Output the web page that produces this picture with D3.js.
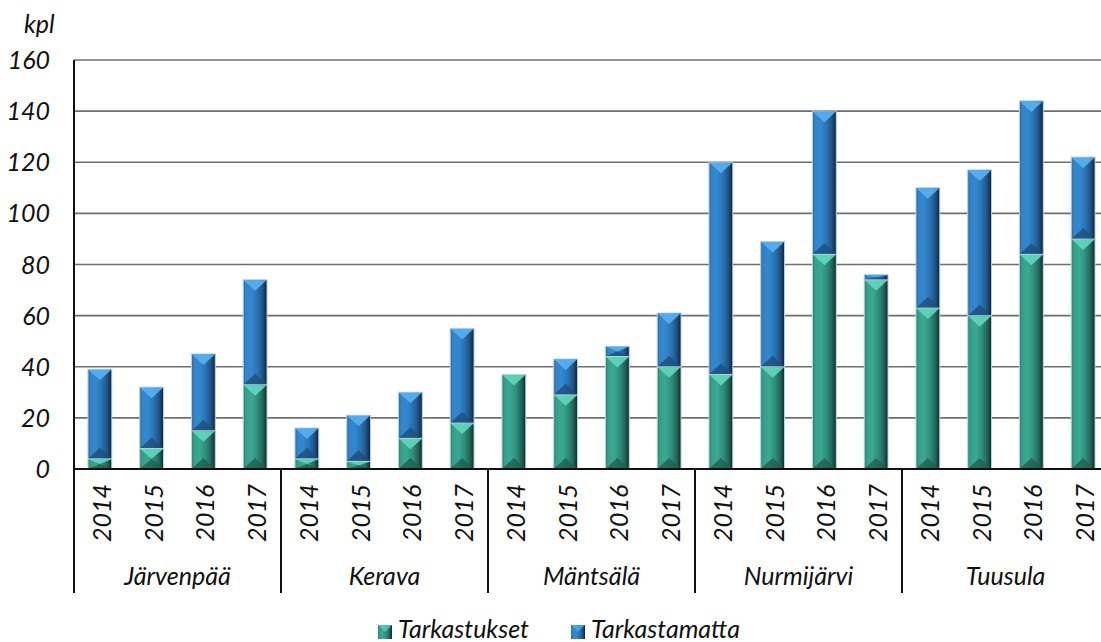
<!DOCTYPE html>
<html><head><meta charset="utf-8">
<script src="https://cdn.jsdelivr.net/npm/d3@7"></script>
<style>
html,body{margin:0;padding:0;background:#fff;overflow:hidden;}
svg{display:block;font-family:Lato,"Open Sans",sans-serif;font-style:italic;}
</style></head><body>
<svg id="c" width="1101" height="642"></svg>
<script>
const groups = ["Järvenpää","Kerava","Mäntsälä","Nurmijärvi","Tuusula"];
const years = ["2014","2015","2016","2017"];
const tarkastukset  = [4,8,15,33, 4,3,12,18, 37,29,44,40, 37,40,84,74, 63,60,84,90];
const tarkastamatta = [35,24,30,41, 12,18,18,37, 0,14,4,21, 83,49,56,2, 47,57,60,32];
const yTicks = [0,20,40,60,80,100,120,140,160];
const seriesNames = ["Tarkastukset","Tarkastamatta"];

(function(){
const svg = d3.select("#c");
const FS = 25;
const pL = 74, pR = 1109, pT = 60, pB = 469;
const keys = [];
groups.forEach(g => years.forEach(y => keys.push(g + "|" + y)));
const x = d3.scaleBand().domain(keys).range([pL, pR]).paddingInner(0.54).paddingOuter(0.27);
const y = d3.scaleLinear().domain([0,160]).range([pB, pT]);

const defs = svg.append("defs");
function grad(id, stops){
  const g = defs.append("linearGradient").attr("id", id).attr("x1","0").attr("x2","1").attr("y1","0").attr("y2","0");
  stops.forEach(s => g.append("stop").attr("offset", s[0]).attr("stop-color", s[1]));
}
grad("gBlue", [[0,"#2a6aa6"],[0.12,"#3584c8"],[0.35,"#3188cf"],[0.6,"#2a72b2"],[0.82,"#1f5284"],[1,"#0e2237"]]);
grad("gGreen", [[0,"#2a8070"],[0.12,"#35a08a"],[0.35,"#3aa892"],[0.6,"#2f8e7a"],[0.82,"#22655a"],[1,"#0f2a26"]]);

// gridlines
svg.append("g").selectAll("line").data(yTicks.filter(t => t > 0)).join("line")
  .attr("x1", pL).attr("x2", 1101).attr("y1", d => y(d)).attr("y2", d => y(d))
  .attr("stroke", "#6e6e6e").attr("stroke-width", 1.6);

// y tick labels
svg.append("g").selectAll("text").data(yTicks).join("text")
  .attr("x", 50).attr("y", d => y(d)).attr("dy", "0.36em").attr("text-anchor", "end")
  .attr("font-size", FS).attr("fill", "#111").text(d => d);
svg.append("text").attr("x", 24).attr("y", 33).attr("font-size", FS).attr("fill", "#111").text("kpl");

// bars
const data = keys.map((k, i) => ({k, a: tarkastukset[i], b: tarkastamatta[i]}));
const bars = svg.append("g");
const col = {
  blue:  {fill:"url(#gBlue)",  topTri:"#56aeee", botTri:"#1d4e7c", stroke:"#b8cfe2"},
  green: {fill:"url(#gGreen)", topTri:"#5fd4ba", botTri:"#1f5f52", stroke:"#b8d8d0"}
};
function seg(g, x0, w, v0, v1, c){
  const yT = y(v1), yB = y(v0), h = yB - yT;
  if (h <= 0) return;
  g.append("rect").attr("x", x0).attr("y", yT).attr("width", w).attr("height", h)
    .attr("fill", c.fill).attr("stroke", c.stroke).attr("stroke-width", 1);
  const d = Math.min(11, h / 2);
  g.append("path").attr("d", `M${x0+0.5},${yT+0.5}L${x0+w-0.5},${yT+0.5}L${x0+w/2},${yT+d}Z`).attr("fill", c.topTri).attr("opacity", 0.95);
  g.append("path").attr("d", `M${x0+0.5},${yB-0.5}L${x0+w-0.5},${yB-0.5}L${x0+w/2},${yB-d}Z`).attr("fill", c.botTri).attr("opacity", 0.8);
}
data.forEach(d => {
  const g = bars.append("g");
  const x0 = x(d.k), w = x.bandwidth();
  seg(g, x0, w, 0, d.a, col.green);
  seg(g, x0, w, d.a, d.a + d.b, col.blue);
});

// axes lines
svg.append("line").attr("x1", pL).attr("x2", pL).attr("y1", pT).attr("y2", 593).attr("stroke", "#111").attr("stroke-width", 2);
svg.append("line").attr("x1", pL).attr("x2", 1101).attr("y1", pB).attr("y2", pB).attr("stroke", "#111").attr("stroke-width", 2);
// group separators
groups.forEach((g, i) => {
  if (i === 0) return;
  const sx = (x(groups[i-1] + "|2017") + x.bandwidth() + x(g + "|2014")) / 2;
  svg.append("line").attr("x1", sx).attr("x2", sx).attr("y1", pB).attr("y2", 593).attr("stroke", "#111").attr("stroke-width", 2);
});

// year labels
svg.append("g").selectAll("text").data(keys).join("text")
  .attr("transform", k => `translate(${x(k) + x.bandwidth()/2 + 11},513) rotate(-90)`)
  .attr("text-anchor", "middle").attr("font-size", FS).attr("fill", "#111")
  .text(k => k.split("|")[1]);
// group labels
svg.append("g").selectAll("text").data(groups).join("text")
  .attr("x", g => (x(g + "|2014") + x(g + "|2017") + x.bandwidth()) / 2)
  .attr("y", 585).attr("text-anchor", "middle").attr("font-size", FS).attr("fill", "#111")
  .text(g => g);

// legend
const leg = svg.append("g");
const legItems = [{n: seriesNames[0], c: col.green, x: 378}, {n: seriesNames[1], c: col.blue, x: 571}];
legItems.forEach(it => {
  leg.append("rect").attr("x", it.x).attr("y", 625).attr("width", 14).attr("height", 14).attr("fill", it.c.fill);
  leg.append("path").attr("d", `M${it.x},625L${it.x+14},625L${it.x+7},632Z`).attr("fill", it.c.topTri).attr("opacity", 0.7);
  leg.append("text").attr("x", it.x + 20).attr("y", 638).attr("font-size", FS).attr("fill", "#111").text(it.n);
});
})();
</script></body></html>
